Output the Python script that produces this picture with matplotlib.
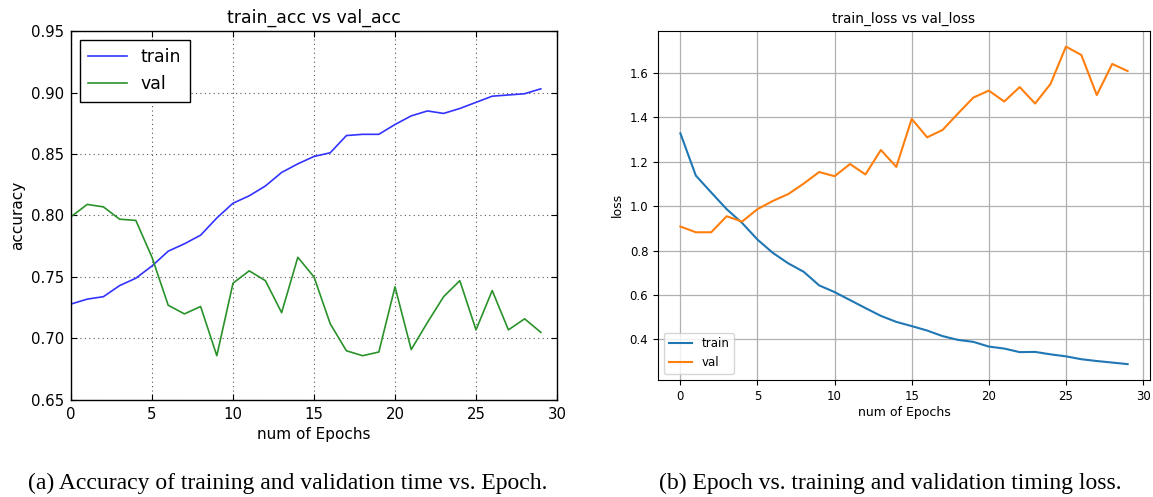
import matplotlib
matplotlib.use("Agg")
import matplotlib.pyplot as plt
import numpy as np

epochs = list(range(30))

# accuracy per epoch (left panel)
train_acc = [0.728, 0.732, 0.734, 0.743, 0.749, 0.759, 0.771, 0.777, 0.784, 0.798,
             0.810, 0.816, 0.824, 0.835, 0.842, 0.848, 0.851, 0.865, 0.866, 0.866,
             0.874, 0.881, 0.885, 0.883, 0.887, 0.892, 0.897, 0.898, 0.899, 0.903]
val_acc = [0.799, 0.809, 0.807, 0.797, 0.796, 0.766, 0.727, 0.720, 0.726, 0.686,
           0.745, 0.755, 0.747, 0.721, 0.766, 0.750, 0.712, 0.690, 0.686, 0.689,
           0.742, 0.691, 0.713, 0.734, 0.747, 0.707, 0.739, 0.707, 0.716, 0.705]

# loss per epoch (right panel)
train_loss = [1.327, 1.137, 1.061, 0.986, 0.924, 0.849, 0.789, 0.742, 0.704, 0.643,
              0.613, 0.577, 0.541, 0.506, 0.479, 0.460, 0.440, 0.415, 0.398, 0.389,
              0.368, 0.359, 0.343, 0.344, 0.333, 0.324, 0.311, 0.303, 0.296, 0.289]
val_loss = [0.908, 0.882, 0.882, 0.954, 0.930, 0.986, 1.023, 1.054, 1.101, 1.153,
            1.134, 1.189, 1.142, 1.252, 1.176, 1.392, 1.309, 1.342, 1.416, 1.488,
            1.519, 1.470, 1.535, 1.461, 1.549, 1.717, 1.679, 1.499, 1.639, 1.607]

acc_ticks = [0.65, 0.70, 0.75, 0.80, 0.85, 0.90, 0.95]

fig = plt.figure(figsize=(11.53, 4.97), dpi=100)
fig.patch.set_facecolor("white")

# left: old matplotlib look
ax1 = fig.add_axes([0.0616, 0.1952, 0.4215, 0.7424])
ax1.plot(epochs, train_acc, color="#3333ff", lw=1.2, label="train")
ax1.plot(epochs, val_acc, color="#2a922a", lw=1.2, label="val")
ax1.set_xlim(0, 30)
ax1.set_ylim(0.65, 0.95)
ax1.set_yticks(acc_ticks)
ax1.set_yticklabels(["%.2f" % v for v in acc_ticks])
ax1.tick_params(direction="in", top=True, right=True, labelsize=10.7, length=4, pad=5)
ax1.grid(True, linestyle=(0, (1, 3)), color="#555555", lw=0.8)
ax1.set_title("train_acc vs val_acc", fontsize=12.5)
ax1.set_xlabel("num of Epochs", fontsize=11)
ax1.set_ylabel("accuracy", fontsize=11)
for sp in ax1.spines.values():
    sp.set_color("k")
    sp.set_linewidth(1.0)
leg = ax1.legend(loc="upper left", fontsize=12.5, fancybox=False, framealpha=1,
                 edgecolor="k", handlelength=2.2, borderpad=0.5)
leg.get_frame().set_linewidth(1.0)

# right: newer default look
ax2 = fig.add_axes([0.5707, 0.2354, 0.4267, 0.7028])
ax2.plot(epochs, train_loss, color="tab:blue", lw=1.5, label="train")
ax2.plot(epochs, val_loss, color="tab:orange", lw=1.5, label="val")
ax2.grid(True, color="#b0b0b0", lw=0.9)
ax2.tick_params(labelsize=8.5, length=3.5)
ax2.set_title("train_loss vs val_loss", fontsize=9.8)
ax2.set_xlabel("num of Epochs", fontsize=9, labelpad=2)
ax2.set_ylabel("loss", fontsize=9)
ax2.legend(loc="lower left", fontsize=8.5)

# captions
fig.text(287.5 / 1153, 1 - 483 / 497, "(a) Accuracy of training and validation time vs. Epoch.",
         ha="center", va="center", family="Liberation Serif", fontsize=17)
fig.text(890.5 / 1153, 1 - 483 / 497, "(b) Epoch vs. training and validation timing loss.",
         ha="center", va="center", family="Liberation Serif", fontsize=17)

fig.savefig("out.png", dpi=100)
